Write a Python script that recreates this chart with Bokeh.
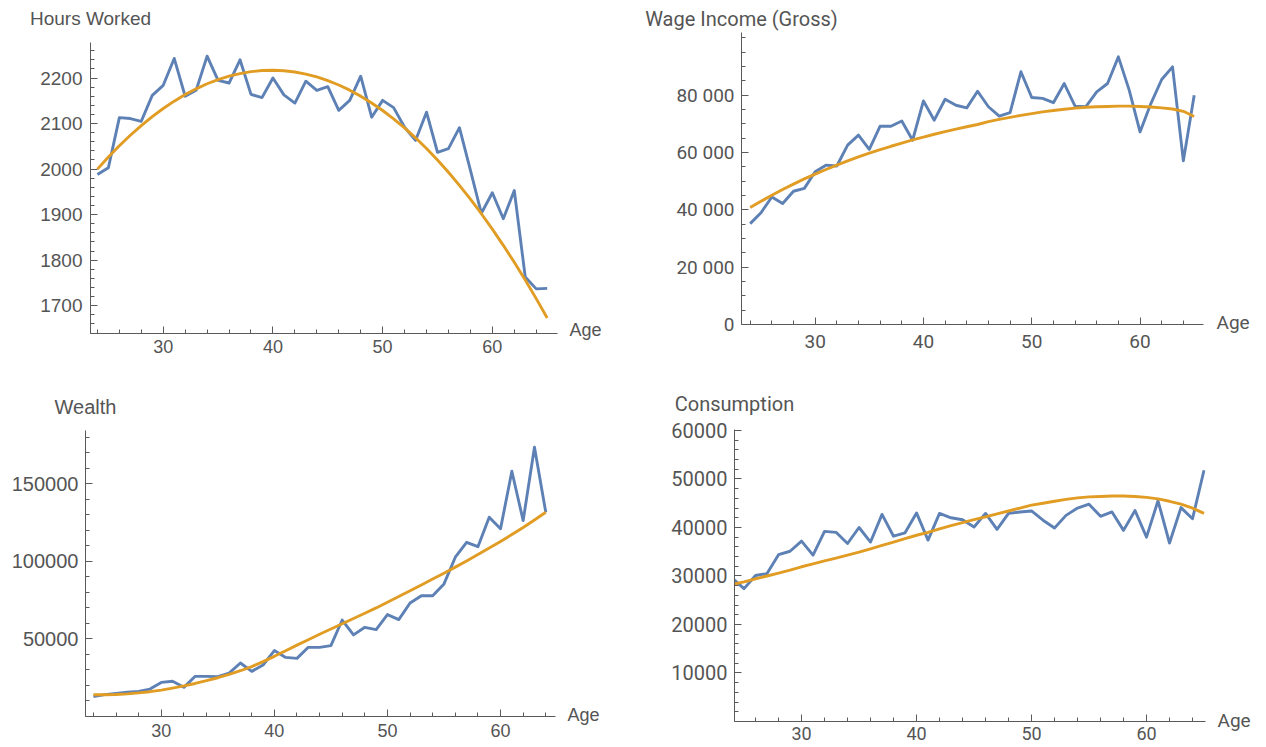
from bokeh.plotting import figure
from bokeh.layouts import column, row
from bokeh.models import Range1d, FixedTicker, LinearAxis, CustomJSTickFormatter
from bokeh.embed import file_html
from bokeh.resources import INLINE

# ---------------- data ----------------
ages = list(range(24, 66))
wealth_ages = list(range(24, 65))

hours = [1988, 2003, 2113, 2111, 2105, 2162, 2184, 2243, 2160, 2173, 2248, 2195, 2189, 2240,
         2164, 2157, 2200, 2163, 2145, 2193, 2173, 2181, 2129, 2151, 2204, 2114, 2151, 2135,
         2092, 2063, 2125, 2037, 2045, 2091, 1998, 1903, 1948, 1891, 1953, 1763, 1737, 1738]
hours_fit = [2000, 2026.5, 2051.3, 2074.3, 2095.6, 2115.2, 2133.1, 2149.2, 2163.7, 2176.3,
             2187.4, 2196.6, 2204.0, 2209.8, 2214.0, 2216.4, 2217.1, 2216.0, 2213.2, 2208.6,
             2202.4, 2194.4, 2184.7, 2173.3, 2160.2, 2145.3, 2128.7, 2110.4, 2090.4, 2068.7,
             2045.1, 2019.9, 1993.0, 1964.3, 1934.0, 1902.0, 1868.1, 1832.6, 1795.3, 1756.3,
             1715.6, 1673.2]

wage = [35200, 39000, 44500, 42200, 46500, 47500, 53300, 55600, 55300, 62600, 66100, 61100,
        69200, 69200, 71000, 64300, 78000, 71300, 78600, 76500, 75600, 81400, 76000, 72700,
        73900, 88200, 79200, 78900, 77400, 84100, 76200, 76000, 81200, 84100, 93400, 81800,
        67200, 77100, 85500, 89900, 57100, 80000]
wage_fit = [40800, 43000, 45100, 47100, 49000, 50800, 52500, 54100, 55600, 57100, 58500, 59800,
            61000, 62200, 63300, 64400, 65400, 66400, 67300, 68200, 69000, 69800, 70800, 71600,
            72300, 73000, 73600, 74200, 74700, 75100, 75500, 75800, 76000, 76100, 76200, 76200,
            76100, 75900, 75600, 75200, 74400, 72600]

wealth = [12800, 14100, 14900, 15600, 16200, 17700, 22000, 22700, 18800, 25900, 25900, 25700,
          28000, 34500, 29100, 33200, 42500, 38100, 37500, 44600, 44600, 45700, 62200, 52600,
          57500, 56000, 65700, 62500, 73200, 77900, 77900, 85500, 102700, 112300, 109500,
          128500, 121000, 158100, 126300, 173600, 131700]
wealth_fit = [14000, 14000, 14200, 14600, 15200, 16000, 17000, 18300, 19700, 21300, 23100,
              25000, 27100, 29500, 32200, 35400, 38800, 42400, 46000, 49500, 53000, 56400,
              59800, 63200, 66600, 70000, 73700, 77400, 81100, 84800, 88600, 92400, 96300,
              100300, 104400, 108600, 112900, 117300, 121900, 126700, 131700]

consumption = [29500, 27400, 30100, 30500, 34400, 35100, 37200, 34300, 39200, 39000, 36700,
               40000, 37000, 42700, 38200, 38900, 43000, 37400, 42900, 42000, 41600, 40100,
               42900, 39600, 42900, 43200, 43400, 41500, 39900, 42500, 44000, 44800, 42300,
               43200, 39400, 43500, 38000, 45500, 36800, 44100, 41800, 51800]
consumption_fit = [28300, 28800, 29400, 30000, 30600, 31200, 31900, 32500, 33100, 33700, 34300,
                   34900, 35600, 36300, 37000, 37700, 38400, 39000, 39700, 40400, 41000, 41600,
                   42200, 42800, 43400, 44000, 44600, 45000, 45400, 45800, 46100, 46300, 46400,
                   46500, 46500, 46400, 46200, 45900, 45400, 44800, 44000, 42900]

titles = ["Hours Worked", "Wage Income (Gross)", "Wealth", "Consumption"]
x_label = "Age"

x_major = [30, 40, 50, 60]
x_minor = [24, 26, 28, 32, 34, 36, 38, 42, 44, 46, 48, 52, 54, 56, 58, 62, 64]

hours_ticks = [1700, 1800, 1900, 2000, 2100, 2200]
hours_labels = ["1700", "1800", "1900", "2000", "2100", "2200"]
wage_ticks = [0, 20000, 40000, 60000, 80000]
wage_labels = ["0", "20 000", "40 000", "60 000", "80 000"]
wealth_ticks = [50000, 100000, 150000]
wealth_labels = ["50000", "100000", "150000"]
cons_ticks = [10000, 20000, 30000, 40000, 50000, 60000]
cons_labels = ["10000", "20000", "30000", "40000", "50000", "60000"]

BLUE = "#5E81B5"
ORANGE = "#E19C24"
AXIS = "#5a5a5a"
TEXT = "#555555"


def text_axis(p, side, tick, text, font, size, standoff):
    ax = LinearAxis(ticker=FixedTicker(ticks=[tick]),
                    formatter=CustomJSTickFormatter(code="return %r;" % text))
    ax.axis_line_color = None
    ax.major_tick_line_color = None
    ax.minor_tick_line_color = None
    ax.major_tick_in = 0
    ax.major_tick_out = 0
    ax.minor_tick_in = 0
    ax.minor_tick_out = 0
    ax.major_label_standoff = standoff
    ax.major_label_text_font = font
    ax.major_label_text_font_size = f"{size}px"
    ax.major_label_text_color = TEXT
    p.add_layout(ax, side)


def panel(width, height, borders, xr, yr, xs, ys, fit, title, title_standoff,
          age_tick, age_standoff, font, tfs, afs, yfs, xfs, yticks, ylabels, yminor_step,
          xstand, ystand):
    l, r, t, b = borders
    p = figure(width=width, height=height, output_backend="svg", toolbar_location=None,
               x_range=Range1d(*xr), y_range=Range1d(*yr),
               min_border_left=l, min_border_right=r, min_border_top=t, min_border_bottom=b)
    p.outline_line_color = None
    p.background_fill_color = "white"
    p.border_fill_color = "white"
    p.xgrid.visible = False
    p.ygrid.visible = False

    p.line(xs, ys, color=BLUE, line_width=2.9, line_join="round")
    p.line(xs, fit, color=ORANGE, line_width=2.9, line_join="round")

    yminor = [v for v in range(int(yr[0]) - int(yr[0]) % yminor_step, int(yr[1]) + 1, yminor_step)
              if v not in yticks and yr[0] <= v <= yr[1]]
    p.xaxis.ticker = FixedTicker(ticks=x_major, minor_ticks=x_minor)
    p.yaxis.ticker = FixedTicker(ticks=yticks, minor_ticks=yminor)
    p.yaxis.major_label_overrides = {tk: lb for tk, lb in zip(yticks, ylabels)}

    for ax in (p.xaxis[0], p.yaxis[0]):
        ax.axis_line_color = AXIS
        ax.major_tick_line_color = AXIS
        ax.minor_tick_line_color = AXIS
        ax.major_tick_in = 7
        ax.major_tick_out = 0
        ax.minor_tick_in = 4
        ax.minor_tick_out = 0
        ax.major_label_text_font = font
        ax.major_label_text_color = TEXT
    p.yaxis.major_label_text_font_size = f"{yfs}px"
    p.xaxis.major_label_text_font_size = f"{xfs}px"
    p.yaxis.major_label_standoff = ystand
    p.xaxis.major_label_standoff = xstand

    # Mathematica-style axis labels: title centred above the y axis, "Age" after the x axis
    text_axis(p, "above", xr[0] + 1e-6, title, font, tfs, title_standoff)
    text_axis(p, "right", age_tick, x_label, font, afs, age_standoff)
    return p


p1 = panel(620, 380, (90, 63, 42, 47), (23.37, 65.94), (1639, 2278), ages, hours, hours_fit,
           titles[0], 14, 1646, 12, "Liberation Sans", 19, 18, 19, 18,
           hours_ticks, hours_labels, 20, 6, 8)
p2 = panel(646, 380, (121, 63, 32, 56), (23.2, 65.86), (0, 101900), ages, wage, wage_fit,
           titles[1], 2, 630, 13, "Roboto", 20, 19, 19, 19,
           wage_ticks, wage_labels, 5000, 10, 7)
p3 = panel(620, 367, (85, 65, 50, 31), (23.3, 64.86), (0, 184400), wealth_ages, wealth, wealth_fit,
           titles[2], 13, 650, 12, "Liberation Sans", 20, 18, 20, 18,
           wealth_ticks, wealth_labels, 10000, 7, 7)
p4 = panel(646, 367, (114, 61, 49, 26), (24.17, 65.13), (0, 60200), ages, consumption, consumption_fit,
           titles[3], 14, 250, 12, "Roboto", 20, 19, 20, 18,
           cons_ticks, cons_labels, 2000, 5, 7)

layout = column(row(column(p1), column(p2)), row(column(p3), column(p4)))
open("out.html", "w").write(file_html(layout, INLINE))
